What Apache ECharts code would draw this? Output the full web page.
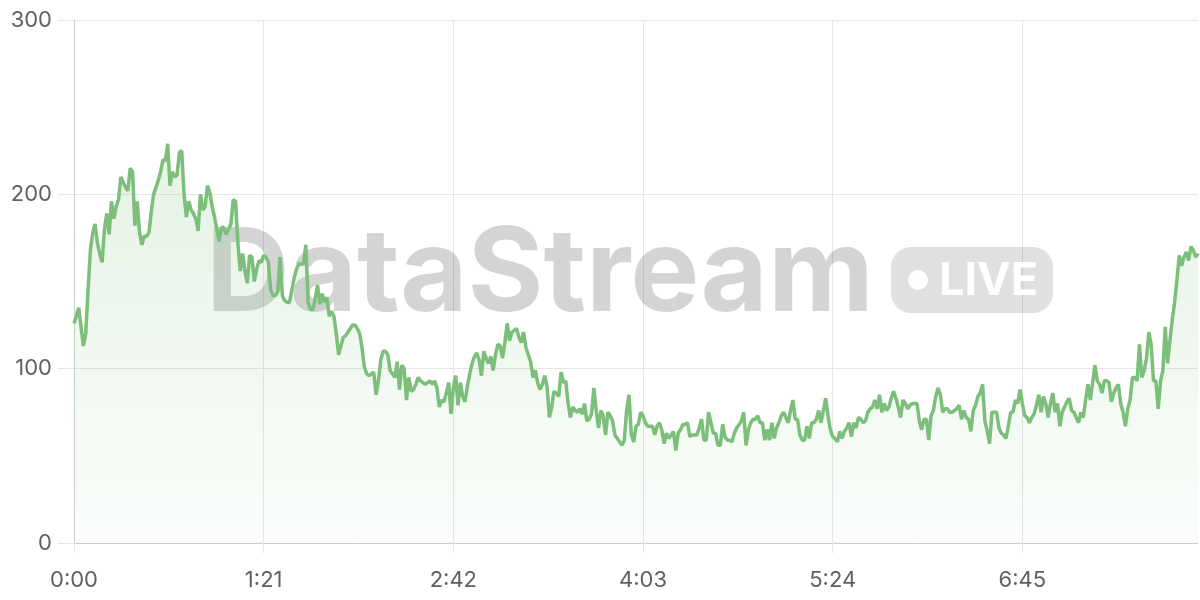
<!DOCTYPE html>
<html>
<head>
<meta charset="utf-8">
<script src="https://cdn.jsdelivr.net/npm/echarts@6/dist/echarts.min.js"></script>
<style>html,body{margin:0;padding:0;background:#fff;}#chart{width:1200px;height:600px;}</style>
</head>
<body>
<div id="chart"></div>
<script>
// seconds elapsed (one sample per second)
const seconds = Array.from({length: 481}, (_, i) => i);
const values = [
126,130,135,124,113,120,145,168,178,183,
172,166,161,180,189,177,196,186,193,197,
210,207,204,202,215,213,182,196,178,171,
176,176,178,190,200,204,208,213,220,219,
229,205,213,210,211,224,225,200,187,196,
191,189,186,179,200,191,193,205,201,193,
187,180,173,181,181,177,180,183,197,196,
172,156,166,156,149,165,164,150,157,162,
161,165,164,161,145,142,142,144,164,142,
139,138,138,145,152,157,160,160,160,171,
138,134,134,140,148,137,143,138,141,130,
133,130,120,108,113,118,119,121,123,125,
125,123,120,112,101,97,96,97,98,85,
93,105,110,110,108,99,97,95,104,88,
102,100,82,95,87,88,91,95,93,92,
91,92,93,91,93,89,78,82,81,86,
92,74,89,96,79,92,84,81,90,97,
103,107,109,105,96,110,106,103,107,99,
108,114,113,106,115,126,116,121,122,123,
118,115,121,112,108,104,95,99,92,88,
91,96,90,72,78,87,86,84,98,92,
93,80,72,78,76,75,77,74,80,70,
71,74,89,76,66,76,73,62,75,73,
70,62,60,58,56,59,76,85,62,58,
67,68,75,73,69,67,67,67,62,67,
69,65,57,63,60,62,64,53,63,65,
68,68,69,61,62,62,62,66,71,59,
59,75,69,63,63,56,56,68,61,59,
59,58,63,66,68,70,75,56,65,69,
71,71,73,69,69,59,65,59,69,60,
66,69,73,75,72,69,76,82,71,71,
62,59,59,67,60,69,69,71,76,69,
76,83,73,65,61,60,58,64,60,64,
66,69,61,69,66,72,71,69,70,75,
77,78,82,77,85,75,80,76,78,83,
87,83,78,72,82,80,77,79,80,80,
80,70,65,71,71,59,73,76,84,89,
85,75,77,77,75,75,76,77,79,71,
76,72,71,64,76,79,84,86,91,70,
64,57,75,75,75,66,63,62,60,67,
75,75,82,80,88,80,73,72,69,72,
74,79,85,75,84,80,72,80,86,75,
80,67,75,78,81,83,76,75,72,69,
75,72,82,91,82,92,102,93,91,86,
93,93,92,81,86,89,91,80,75,67,
77,82,95,95,93,114,95,99,106,121,
114,93,93,77,93,99,124,103,116,128,
138,151,165,159,164,167,162,170,168,164,
166
];
// y axis ticks
const yTicks = [0, 100, 200, 300];

function fmt(s) {
  const m = Math.floor(s / 60), r = s % 60;
  return m + ':' + (r < 10 ? '0' : '') + r;
}
const xLabels = seconds.map(fmt);

const chart = echarts.init(document.getElementById('chart'), null, {renderer: 'canvas'});
const lineColor = '#7cbf7a';
const labelFont = 'Inter';
chart.setOption({
  animation: false,
  backgroundColor: '#ffffff',
  grid: {left: 74, right: 2, top: 20, bottom: 57, containLabel: false},
  xAxis: {
    type: 'category',
    data: xLabels,
    boundaryGap: false,
    axisLine: {show: true, lineStyle: {color: '#cccccc', width: 1}},
    axisTick: {show: true, interval: 80, length: 10, lineStyle: {color: '#e6e6e6'}},
    axisLabel: {interval: 80, color: '#5f5f5f', fontSize: 22, margin: 26, fontFamily: labelFont},
    splitLine: {show: true, interval: 80, lineStyle: {color: '#e6e6e6', width: 1}}
  },
  yAxis: {
    type: 'value',
    min: yTicks[0], max: yTicks[yTicks.length - 1], interval: 100,
    axisLine: {show: true, lineStyle: {color: '#cccccc', width: 1}},
    axisTick: {show: true, length: 16, lineStyle: {color: '#e6e6e6'}},
    axisLabel: {color: '#5f5f5f', fontSize: 22, margin: 22, fontFamily: labelFont},
    splitLine: {show: true, lineStyle: {color: '#e6e6e6', width: 1}}
  },
  graphic: [
    {type: 'text', z: 1, silent: true, style: {x: 206, y: 276, text: 'DataStream', font: 'bold 116px Inter', fill: 'rgba(0,0,0,0.17)', verticalAlign: 'middle', textAlign: 'left'}},
    {type: 'rect', z: 1, silent: true, shape: {x: 891, y: 247, width: 162, height: 66, r: 20}, style: {fill: 'rgba(0,0,0,0.12)'}},
    {type: 'circle', z: 1, silent: true, shape: {cx: 918, cy: 280, r: 10}, style: {fill: '#ffffff'}},
    {type: 'text', z: 1, silent: true, style: {x: 939, y: 281, text: 'LIVE', font: 'bold 45px Inter', fill: '#ffffff', verticalAlign: 'middle', textAlign: 'left'}}
  ],
  series: [{
    type: 'line',
    data: values,
    showSymbol: false,
    smooth: false,
    lineStyle: {color: lineColor, width: 3.5},
    itemStyle: {color: lineColor},
    areaStyle: {
      color: new echarts.graphic.LinearGradient(0, 0, 0, 1, [
        {offset: 0, color: 'rgba(124,191,122,0.28)'},
        {offset: 1, color: 'rgba(124,191,122,0.05)'}
      ])
    },
    z: 3
  }]
});
</script>
</body>
</html>
